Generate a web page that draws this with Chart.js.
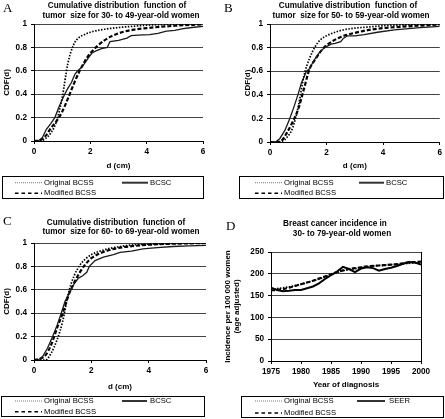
<!DOCTYPE html>
<html><head><meta charset="utf-8">
<script src="https://cdn.jsdelivr.net/npm/chart.js@4"></script>
<style>
html,body{margin:0;padding:0;background:#fff;}
#root{position:relative;width:445px;height:419px;overflow:hidden;font-family:"Liberation Sans",Arial,sans-serif;color:#000;}
canvas{position:absolute;}
.letter{position:absolute;font-family:"Liberation Serif","Times New Roman",serif;font-size:13px;line-height:13px;}
.ttl{position:absolute;width:220px;text-align:center;font-weight:bold;font-size:8.2px;line-height:10px;white-space:pre;}
.leg{position:absolute;border:1px solid #000;box-sizing:border-box;}
.li{position:absolute;font-size:7.7px;line-height:10px;white-space:nowrap;}
svg.s{position:absolute;overflow:visible;}
</style></head>
<body><div id="root">
<canvas id="cA" width="222" height="170" style="left:0;top:0"></canvas>
<canvas id="cB" width="223" height="170" style="left:222px;top:0"></canvas>
<canvas id="cC" width="222" height="186" style="left:0;top:205px"></canvas>
<canvas id="cD" width="223" height="184" style="left:222px;top:205px"></canvas>
</div>
<script>
// ---------- DATA ----------
const dGrid = [0, 0.2, 0.4, 0.6, 0.8, 1.0, 1.2, 1.4, 1.6, 1.8, 2.0, 2.5, 3.0, 3.5, 4.0, 5.0, 6.0];

// Panel A: 30- to 49-year-old women
const aOriginal = [0, 0, 0.02, 0.07, 0.17, 0.37, 0.66, 0.82, 0.885, 0.91, 0.93, 0.955, 0.97, 0.98, 0.99, 0.997, 1.0];
const aModified = [0, 0.005, 0.04, 0.11, 0.17, 0.25, 0.36, 0.48, 0.59, 0.68, 0.75, 0.86, 0.92, 0.95, 0.965, 0.985, 0.997];
const aBcscD = [0, 0.15, 0.3, 0.44, 0.6, 0.74, 0.9, 1.09, 1.2, 1.33, 1.45, 1.55, 1.7, 1.9, 2.05, 2.2, 2.4, 2.6, 2.7, 3.0, 3.3, 3.45, 3.7, 4.1, 4.4, 4.7, 5.0, 5.3, 5.6, 6.0];
const aBcsc  = [0, 0, 0.03, 0.1, 0.15, 0.2, 0.3, 0.4, 0.45, 0.5, 0.57, 0.6, 0.63, 0.7, 0.75, 0.77, 0.79, 0.8, 0.85, 0.86, 0.88, 0.9, 0.905, 0.91, 0.92, 0.94, 0.945, 0.96, 0.97, 0.98];

// Panel B: 50- to 59-year-old women
const bOriginal = [0, 0, 0.005, 0.04, 0.12, 0.3, 0.56, 0.71, 0.81, 0.87, 0.9, 0.945, 0.965, 0.975, 0.985, 0.995, 1.0];
const bModified = [0, 0, 0.01, 0.08, 0.17, 0.28, 0.45, 0.62, 0.7, 0.77, 0.82, 0.89, 0.925, 0.95, 0.965, 0.982, 0.995];
const bBcscD = [0, 0.2, 0.35, 0.53, 0.7, 0.85, 1.0, 1.11, 1.29, 1.4, 1.46, 1.58, 1.75, 1.93, 2.16, 2.3, 2.5, 2.6, 2.75, 3.0, 3.33, 3.8, 4.4, 5.3, 6.0];
const bBcsc  = [0, 0, 0.03, 0.1, 0.2, 0.3, 0.41, 0.5, 0.6, 0.62, 0.65, 0.7, 0.76, 0.8, 0.83, 0.835, 0.85, 0.88, 0.9, 0.9, 0.91, 0.93, 0.95, 0.97, 0.98];

// Panel C: 60- to 69-year-old women
const cOriginal = [0, 0, 0, 0.06, 0.17, 0.33, 0.57, 0.72, 0.81, 0.865, 0.9, 0.945, 0.97, 0.985, 0.99, 0.997, 1.0];
const cModified = [0, 0.01, 0.04, 0.13, 0.27, 0.4, 0.55, 0.66, 0.75, 0.82, 0.87, 0.93, 0.96, 0.975, 0.985, 0.995, 1.0];
const cBcscD = [0, 0.15, 0.3, 0.47, 0.65, 0.81, 0.95, 1.08, 1.25, 1.4, 1.55, 1.7, 1.84, 1.93, 2.13, 2.42, 2.77, 3.0, 3.4, 3.8, 4.3, 4.85, 5.4, 6.0];
const cBcsc  = [0, 0, 0.03, 0.1, 0.2, 0.3, 0.4, 0.5, 0.58, 0.65, 0.7, 0.72, 0.75, 0.8, 0.85, 0.88, 0.9, 0.92, 0.93, 0.95, 0.96, 0.97, 0.975, 0.98];

// Panel D: incidence per 100 000 women, 1975-2000
const years = [1975,1976,1977,1978,1979,1980,1981,1982,1983,1984,1985,1986,1987,1988,1989,1990,1991,1992,1993,1994,1995,1996,1997,1998,1999,2000];
const dSeer     = [168,163,160,161,163,163,167,171,178,188,197,205,216,211,204,212,215,213,207,211,214,218,223,227,226,221];
const dOriginal = [165,166,168,170,173,176,180,184,188,193,198,203,207,210,212,214,216,218,219,220,221,222,223,224,225,226];
const dModified = [162,163,165,168,172,176,180,184,189,194,199,204,208,211,213,215,217,218,219,220,221,222,224,226,227,228];

const cdfTicksX = [0, 2, 4, 6];
const panelTitles = {
  A: ['Cumulative distribution  function of', 'tumor  size for 30- to 49-year-old women'],
  B: ['Cumulative distribution  function of', 'tumor  size for 50- to 59-year-old women'],
  C: ['Cumulative distribution  function of', 'tumor  size for 60- to 69-year-old women'],
  D: ['Breast cancer incidence in', '30- to 79-year-old women']
};

// ---------- HELPERS ----------
const xy = (xs, ys) => xs.map((x, i) => ({x: x, y: ys[i]}));
const FAM = '"Liberation Sans", Arial, sans-serif';
const tickFont = {family: FAM, size: 8.2, weight: 'bold'};
const titleFont = {family: FAM, size: 8, weight: 'bold', lineHeight: 1.05};
const GRID = '#444';

const styleOrig = {borderColor:'#000', borderWidth:1.7, borderDash:[1.5,1.5], pointRadius:0, fill:false};
const styleMain = {borderColor:'#1a1a1a', borderWidth:1.3, pointRadius:0, fill:false, tension:0};
const styleMod  = {borderColor:'#000', borderWidth:2.2, borderDash:[4,2], pointRadius:0, fill:false};

function cdfChart(id, orig, bD, bV, mod, g) {
  return new Chart(document.getElementById(id), {
    type: 'line',
    data: {datasets: [
      Object.assign({label:'Original BCSS', data: xy(dGrid, orig), cubicInterpolationMode:'monotone'}, styleOrig),
      Object.assign({label:'BCSC', data: xy(bD, bV)}, styleMain),
      Object.assign({label:'Modified BCSS', data: xy(dGrid, mod), cubicInterpolationMode:'monotone'}, styleMod)
    ]},
    options: {
      responsive:false, animation:false, devicePixelRatio:1,
      layout:{padding:{left:g.pl, right:g.pr, top:g.pt, bottom:0}},
      plugins:{legend:{display:false}, tooltip:{enabled:false}},
      scales:{
        x:{type:'linear', min:0, max:6,
           afterBuildTicks: s => { s.ticks = cdfTicksX.map(v => ({value:v})); },
           ticks:{font:tickFont, color:'#000', padding:3, maxRotation:0},
           grid:{drawOnChartArea:false, drawTicks:true, tickLength:3, tickColor:'#000'},
           border:{color:'#000', width:1},
           title:{display:true, text:'d (cm)', font:titleFont, color:'#000', padding:{top:0, bottom:0}},
           afterFit: s => { s.height = g.xh; }},
        y:{min:0, max:1,
           ticks:{stepSize:0.1, font:tickFont, color:'#000', padding:4, callback: v => String(Number(v.toFixed(1)))},
           grid:{color:GRID, lineWidth:1, tickLength:3, tickColor:'#000'},
           border:{color:'#000', width:1},
           title:{display:true, text:'CDF(d)', font:titleFont, color:'#000', padding:{top:g.tp, bottom:0}},
           afterFit: s => { s.width = g.yw; }}
      }
    }
  });
}

cdfChart('cA', aOriginal, aBcscD, aBcsc, aModified, {pl:0, pr:19, pt:24, xh:29, yw:34, tp:3});
cdfChart('cB', bOriginal, bBcscD, bBcsc, bModified, {pl:18, pr:4, pt:24, xh:28, yw:30, tp:3.2});
cdfChart('cC', cOriginal, cBcscD, cBcsc, cModified, {pl:0, pr:16, pt:38, xh:31, yw:34, tp:3});

new Chart(document.getElementById('cD'), {
  type:'line',
  data:{datasets:[
    Object.assign({label:'Original BCSS', data: xy(years, dOriginal), cubicInterpolationMode:'monotone'}, styleOrig),
    Object.assign({label:'SEER', data: xy(years, dSeer)}, styleMain, {borderWidth:2, borderColor:'#000'}),
    Object.assign({label:'Modified BCSS', data: xy(years, dModified), cubicInterpolationMode:'monotone'}, styleMod)
  ]},
  options:{
    responsive:false, animation:false, devicePixelRatio:1,
    layout:{padding:{left:0, right:24, top:47, bottom:0}},
    plugins:{legend:{display:false}, tooltip:{enabled:false}},
    scales:{
      x:{type:'linear', min:1975, max:2000,
         ticks:{stepSize:5, font:tickFont, color:'#000', padding:3, maxRotation:0, callback: v => String(v)},
         grid:{drawOnChartArea:false, drawTicks:true, tickLength:3, tickColor:'#000'},
         border:{color:'#000', width:1},
         title:{display:true, text:'Year of diagnosis', font:titleFont, color:'#000', padding:{top:0, bottom:0}},
         afterFit: s => { s.height = 28; }},
      y:{min:0, max:250,
         ticks:{stepSize:50, font:tickFont, color:'#000', padding:4},
         grid:{color:GRID, lineWidth:1, tickLength:3, tickColor:'#000'},
         border:{color:'#000', width:1},
         title:{display:true, text:['Incidence per 100 000 women', '(age adjusted)'], font:titleFont, color:'#000', padding:{top:2, bottom:0}},
         afterFit: s => { s.width = 49; }},
      y2:{position:'right', min:0, max:250,
         ticks:{display:false}, grid:{drawOnChartArea:false, drawTicks:false},
         border:{color:'#000', width:1},
         afterFit: s => { s.width = 0; }}
    }
  }
});

// ---------- TEXT: letters, titles, legends ----------
const root = document.getElementById('root');
function add(html){ root.insertAdjacentHTML('beforeend', html); }
function letter(t, x, y){ add(`<div class="letter" style="left:${x}px;top:${y}px">${t}</div>`); }
function title(key, c1, c2, top1, top2){
  add(`<div class="ttl" style="left:${c1-110}px;top:${top1}px">${panelTitles[key][0]}</div>`);
  add(`<div class="ttl" style="left:${c2-110}px;top:${top2}px">${panelTitles[key][1]}</div>`);
}
function sample(kind, x1, x2, y){
  let st = '';
  if (kind === 'dot') st = 'stroke="#777" stroke-width="1" stroke-dasharray="1,1"';
  else if (kind === 'solid') st = 'stroke="#333" stroke-width="2"';
  else st = 'stroke="#000" stroke-width="1.6" stroke-dasharray="3.5,3"';
  add(`<svg class="s" style="left:0;top:0" width="445" height="419"><line x1="${x1}" y1="${y}" x2="${x2}" y2="${y}" ${st}/></svg>`);
}
function label(t, x, yc){ add(`<div class="li" style="left:${x}px;top:${yc-5}px">${t}</div>`); }
function legend(box, r1, r2, col1, col2, secondLabel){
  add(`<div class="leg" style="left:${box[0]}px;top:${box[1]}px;width:${box[2]}px;height:${box[3]}px"></div>`);
  sample('dot', col1[0], col1[1], r1); label('Original BCSS', col1[2], r1);
  sample('solid', col2[0], col2[1], r1); label(secondLabel, col2[2], r1);
  sample('dash', col1[0], col1[1], r2); label('Modified BCSS', col1[2], r2);
}

letter('A', 3, 1); letter('B', 224, 1); letter('C', 3, 214); letter('D', 226, 219);
title('A', 117, 121, 1, 10.5);
title('B', 348, 351, 1, 10.5);
title('C', 116, 121, 218, 226.5);
title('D', 335, 342, 219, 229);

legend([2,176,202,23], 182.7, 193.3, [15,42,44], [122,148,150], 'BCSC');
legend([239,176,205,23], 182.7, 193.3, [255,282,284], [359,384,386], 'BCSC');
legend([1,396,204,21], 401, 411.7, [15,42,44], [122,147,150], 'BCSC');
legend([241,396,203,22], 401, 413, [255,282,284], [357,385,389], 'SEER');
</script>
</body></html>
